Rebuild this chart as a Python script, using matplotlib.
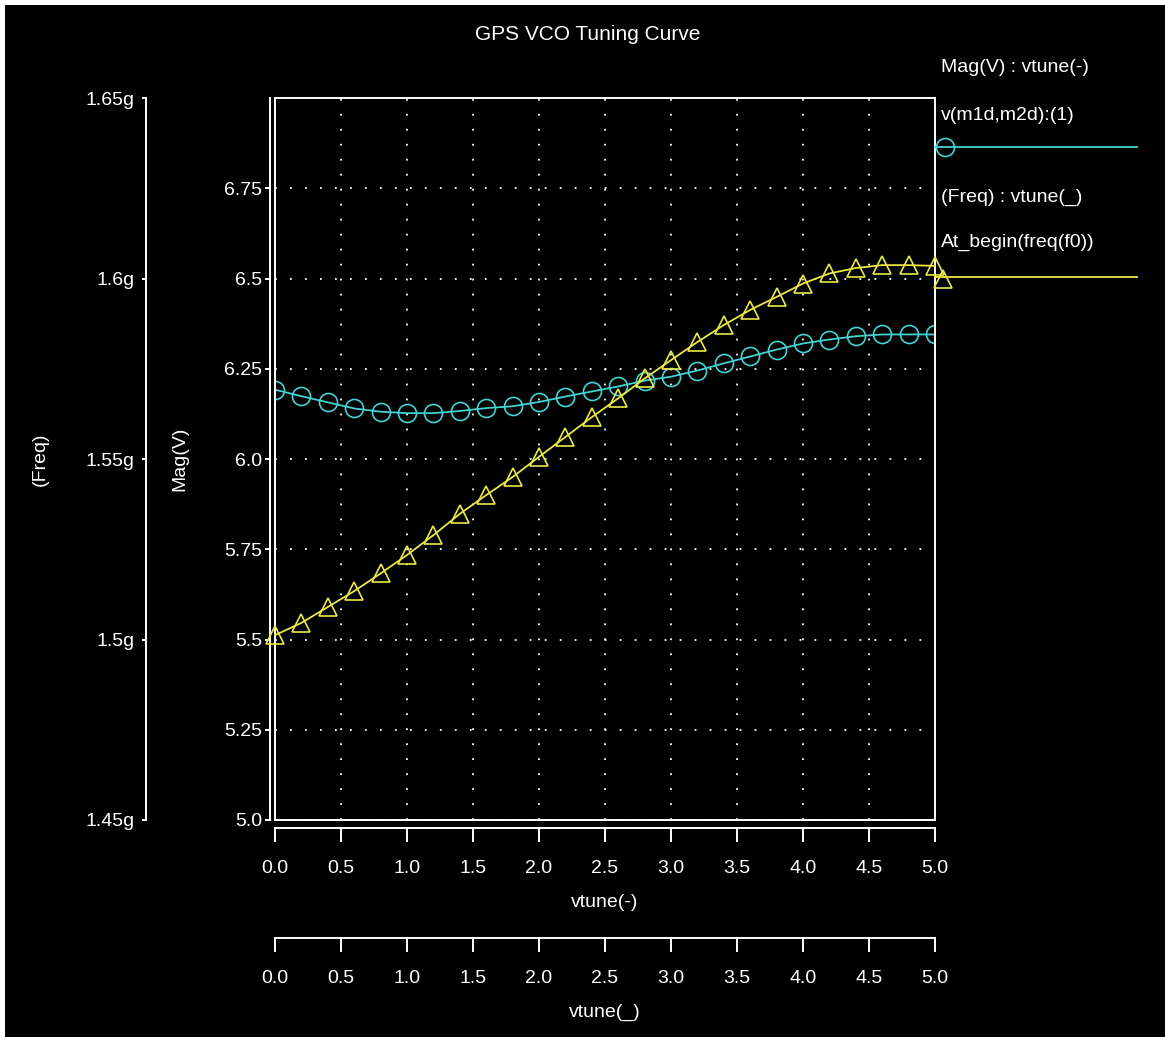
import matplotlib
matplotlib.use("Agg")
import matplotlib.pyplot as plt
from matplotlib.lines import Line2D
from matplotlib.patches import Rectangle
from matplotlib.ticker import FuncFormatter

plt.rcParams['font.family'] = ['Liberation Sans', 'DejaVu Sans']

# sweep of vtune (V)
vtune = [0.0, 0.2, 0.4, 0.6, 0.8, 1.0, 1.2, 1.4, 1.6, 1.8, 2.0, 2.2, 2.4,
         2.6, 2.8, 3.0, 3.2, 3.4, 3.6, 3.8, 4.0, 4.2, 4.4, 4.6, 4.8, 5.0]

# Mag(V) of v(m1d,m2d):(1)
mag_v = [6.192, 6.174, 6.157, 6.140, 6.131, 6.127, 6.127, 6.133, 6.141,
         6.146, 6.158, 6.173, 6.187, 6.201, 6.217, 6.228, 6.245, 6.265,
         6.284, 6.303, 6.320, 6.331, 6.340, 6.345, 6.345, 6.345]

# At_begin(freq(f0)) in GHz
freq_ghz = [1.5012, 1.5046, 1.5090, 1.5134, 1.5183, 1.5234, 1.5289, 1.5348,
            1.5400, 1.5450, 1.5506, 1.5561, 1.5616, 1.5668, 1.5723, 1.5774,
            1.5824, 1.5871, 1.5913, 1.5949, 1.5986, 1.6014, 1.6029, 1.6037,
            1.6037, 1.6035]

x_ticks = [0.0, 0.5, 1.0, 1.5, 2.0, 2.5, 3.0, 3.5, 4.0, 4.5, 5.0]
mag_ticks = [5.0, 5.25, 5.5, 5.75, 6.0, 6.25, 6.5, 6.75]
freq_ticks = [1.45, 1.5, 1.55, 1.6, 1.65]

W, H = 1165, 1042
CYAN = '#45d2d2'
YELLOW = '#e8e848'
FS = 14

fig = plt.figure(figsize=(W / 100, H / 100), dpi=100, facecolor='black')
# white screenshot margin on left, top and bottom
for r in [(0, 0, 5 / W, 1), (0, 1 - 5 / H, 1, 5 / H), (0, 0, 1, 5 / H)]:
    fig.patches.append(Rectangle(r[:2], r[2], r[3], transform=fig.transFigure,
                                 facecolor='white', edgecolor='none', zorder=-10))

ax = fig.add_axes([275 / W, 1 - 820 / H, 660 / W, 722 / H])
ax.set_facecolor('black')
ax.set_xlim(0, 5)
ax.set_ylim(5.0, 7.0)

for s in ['top', 'right']:
    ax.spines[s].set_visible(False)
ax.spines['left'].set_position(('outward', 3.6))
ax.spines['bottom'].set_position(('outward', 5.8))
for s in ['left', 'bottom']:
    ax.spines[s].set_color('white')
    ax.spines[s].set_linewidth(1.4)
ax.add_patch(Rectangle((0, 0), 1, 1, transform=ax.transAxes, fill=False,
                       edgecolor='white', linewidth=1.4, clip_on=False, zorder=5))

ax.set_xticks(x_ticks)
ax.set_yticks(mag_ticks)
ax.xaxis.set_major_formatter(FuncFormatter(lambda v, p: f"{v:.1f}"))


def mag_fmt(v, p):
    s = f"{v:g}"
    return s if '.' in s else s + '.0'


ax.yaxis.set_major_formatter(FuncFormatter(mag_fmt))
ax.tick_params(axis='x', colors='white', length=10, width=1.4, pad=13, labelsize=FS)
ax.tick_params(axis='y', colors='white', length=3.6, width=1.4, pad=2, labelsize=FS)
ax.grid(True, color='white', linestyle=(0, (1, 7.3)), linewidth=1.3)

ax.plot(vtune, mag_v, color=CYAN, linewidth=1.3, marker='o', markersize=13,
        markerfacecolor='none', markeredgecolor=CYAN, markeredgewidth=1.2, zorder=3)

ax.set_xlabel('vtune(-)', color='white', fontsize=FS, labelpad=12)
ax.set_ylabel('Mag(V)', color='white', fontsize=FS, va='center')
ax.yaxis.set_label_coords((180 - 275) / 660, 0.5)

# frequency axis on the far left
axf = ax.twinx()
axf.set_ylim(1.45, 1.65)
for s in ['top', 'right', 'bottom']:
    axf.spines[s].set_visible(False)
axf.spines['left'].set_visible(True)
axf.spines['left'].set_position(('outward', (275 - 146) * 0.72))
axf.spines['left'].set_color('white')
axf.spines['left'].set_linewidth(1.4)
axf.yaxis.set_ticks_position('left')
axf.yaxis.set_label_position('left')
axf.set_yticks(freq_ticks)
axf.yaxis.set_major_formatter(FuncFormatter(lambda v, p: f"{v:g}g"))
axf.tick_params(axis='y', colors='white', length=3, width=1.4, pad=5, labelsize=FS)
axf.set_ylabel('(Freq)', color='white', fontsize=FS, va='center')
axf.yaxis.set_label_coords((40 - 275) / 660, 0.5)

axf.plot(vtune, freq_ghz, color=YELLOW, linewidth=1.3, marker='^', markersize=13,
         markerfacecolor='none', markeredgecolor=YELLOW, markeredgewidth=1.2,
         clip_on=False)

# second x axis (vtune(_))
sec = ax.secondary_xaxis(-(938 - 820) / 722)
sec.set_xticks(x_ticks)
sec.xaxis.set_major_formatter(FuncFormatter(lambda v, p: f"{v:.1f}"))
sec.spines['bottom'].set_color('white')
sec.spines['bottom'].set_linewidth(1.4)
sec.tick_params(axis='x', colors='white', length=10, width=1.4, pad=13, labelsize=FS)
sec.set_xlabel('vtune(_)', color='white', fontsize=FS, labelpad=12)

fig.text(588 / W, 1 - 35 / H, 'GPS VCO Tuning Curve', color='white',
         fontsize=15, ha='center', va='center')

# legend on the right
tx = 941 / W
fig.text(tx, 1 - 67 / H, 'Mag(V) : vtune(-)', color='white', fontsize=FS, va='center')
fig.text(tx, 1 - 116 / H, 'v(m1d,m2d):(1)', color='white', fontsize=FS, va='center')
fig.text(tx, 1 - 197 / H, '(Freq) : vtune(_)', color='white', fontsize=FS, va='center')
fig.text(tx, 1 - 242 / H, 'At_begin(freq(f0))', color='white', fontsize=FS, va='center')
fig.lines.append(Line2D([935 / W, 1137 / W], [1 - 147 / H, 1 - 147 / H],
                        transform=fig.transFigure, color=CYAN, linewidth=1.3))
fig.lines.append(Line2D([945 / W], [1 - 147 / H], transform=fig.transFigure,
                        marker='o', markersize=13, markerfacecolor='none',
                        markeredgecolor=CYAN, markeredgewidth=1.2))
fig.lines.append(Line2D([935 / W, 1137 / W], [1 - 277 / H, 1 - 277 / H],
                        transform=fig.transFigure, color=YELLOW, linewidth=1.3))
fig.lines.append(Line2D([943 / W], [1 - 279 / H], transform=fig.transFigure,
                        marker='^', markersize=13, markerfacecolor='none',
                        markeredgecolor=YELLOW, markeredgewidth=1.2))

fig.savefig('out.png', dpi=100, facecolor=fig.get_facecolor())
